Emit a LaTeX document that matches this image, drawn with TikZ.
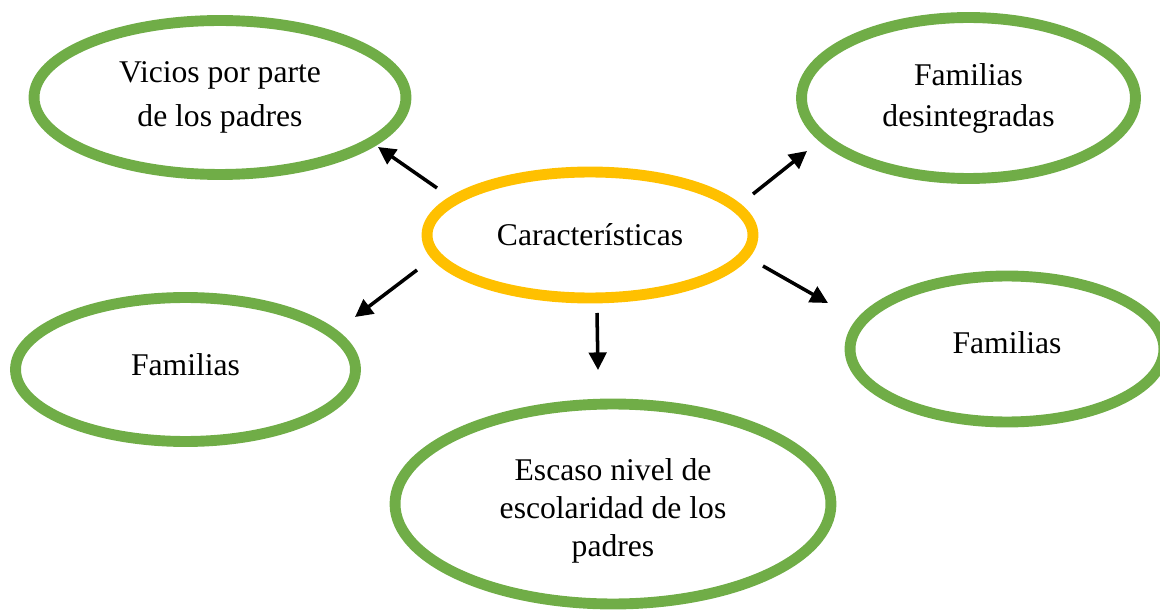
\documentclass[tikz,border=0pt]{standalone}
\usepackage{fontspec}
\setmainfont{Liberation Serif}
\usetikzlibrary{shapes.geometric,arrows.meta}
\definecolor{ovalgreen}{HTML}{70AD47}
\definecolor{ovalorange}{HTML}{FFC000}
\begin{document}
\begin{tikzpicture}[x=0.02cm,y=-0.02cm]
        \useasboundingbox (0,0) rectangle (1160,611);
        \begin{scope}[every node/.style={ellipse,draw=ovalgreen,line width=6.2pt,inner sep=0pt,align=center,font=\fontsize{18}{21.5}\selectfont}]
            \node[draw=ovalorange,minimum width=6.52cm,minimum height=2.52cm] (car) at (590,235) {Características};
            \node[minimum width=7.44cm,minimum height=3.08cm] (vic) at (220,97.5) {Vicios por parte\\[3.5pt] de los padres};
            \node[minimum width=6.68cm,minimum height=3.22cm] (des) at (968.5,98) {Familias\\[1.8pt] desintegradas};
            \node[minimum width=6.8cm,minimum height=2.88cm,text depth=5.6pt] (faml) at (185.5,369.5) {Familias};
            \node[minimum width=6.28cm,minimum height=2.92cm,text depth=7.6pt] (famr) at (1007,349) {Familias};
            \node[minimum width=8.72cm,minimum height=4cm] (esc) at (613,504) {\rule{0pt}{20.5pt}Escaso nivel de\\ escolaridad de los\\ padres};
        \end{scope}
        \coordinate (a) at (437,188);
        \coordinate (a') at (378,147);
        \coordinate (b) at (753,194);
        \coordinate (b') at (807,151);
        \coordinate (c) at (417,270);
        \coordinate (c') at (355,317);
        \coordinate (d) at (763,266);
        \coordinate (d') at (828,303);
        \coordinate (e) at (597,313);
        \coordinate (e') at (598,370);
        \begin{scope}[every edge/.style={draw=black,line width=2pt,-{Triangle[length=10pt,width=10pt]}}]
            \path (a) edge (a')
                  (b) edge (b')
                  (c) edge (c')
                  (d) edge (d')
                  (e) edge (e');
        \end{scope}
\end{tikzpicture}
\end{document}
